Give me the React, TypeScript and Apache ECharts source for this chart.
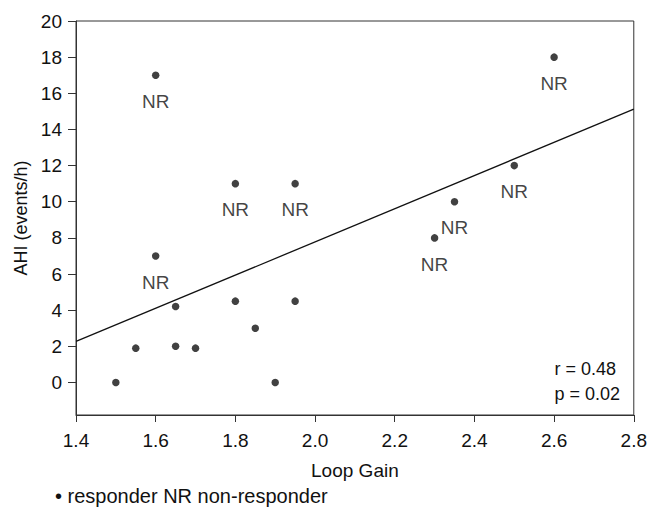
import React, { useEffect, useRef } from "react";
import * as echarts from "echarts";

const responderX = [1.5, 1.55, 1.65, 1.65, 1.7, 1.8, 1.85, 1.9, 1.95];
const responderY = [0, 1.9, 4.2, 2.0, 1.9, 4.5, 3.0, 0, 4.5];
const nonResponderX = [1.6, 1.6, 1.8, 1.95, 2.3, 2.35, 2.5, 2.6];
const nonResponderY = [17, 7, 11, 11, 8, 10, 12, 18];
const fitX = [1.4, 2.8];
const fitY = [2.27, 15.12];
const xTicks = [1.4, 1.6, 1.8, 2.0, 2.2, 2.4, 2.6, 2.8];
const yTicks = [0, 2, 4, 6, 8, 10, 12, 14, 16, 18, 20];
const statsLines = ["r = 0.48", "p = 0.02"];
const legendText = "\u2022 responder NR non-responder";

const FONT = "'Liberation Sans', Arial, Helvetica, sans-serif";
const TXT = "#111";
const AX = "#333";

export default function App() {
  const ref = useRef<HTMLDivElement>(null);
  useEffect(() => {
    if (!ref.current) return;
    const chart = echarts.init(ref.current, undefined, { renderer: "svg" });
    chart.setOption({
      animation: false,
      backgroundColor: "#fff",
      textStyle: { fontFamily: FONT },
      grid: {
        left: 76,
        right: 12,
        top: 21,
        bottom: 93,
        show: true,
        borderColor: AX,
        borderWidth: 1,
      },
      xAxis: {
        type: "value",
        min: 1.4,
        max: 2.8,
        name: "Loop Gain",
        nameLocation: "middle",
        nameGap: 46,
        nameTextStyle: { fontSize: 19, color: TXT, fontFamily: FONT },
        axisLine: { show: true, onZero: false, lineStyle: { color: AX, width: 1 } },
        axisTick: { show: true, length: 7, lineStyle: { color: AX }, customValues: xTicks },
        axisLabel: {
          fontSize: 19,
          color: TXT,
          fontFamily: FONT,
          margin: 16,
          customValues: xTicks,
          formatter: (v: number) => v.toFixed(1),
        },
        splitLine: { show: false },
      },
      yAxis: {
        type: "value",
        min: -1.8,
        max: 20,
        name: "AHI (events/h)",
        nameLocation: "middle",
        nameGap: 46,
        nameTextStyle: { fontSize: 18, color: TXT, fontFamily: FONT },
        axisLine: { show: true, onZero: false, lineStyle: { color: AX, width: 1 } },
        axisTick: { show: true, length: 8, lineStyle: { color: AX }, customValues: yTicks },
        axisLabel: {
          fontSize: 19,
          color: TXT,
          fontFamily: FONT,
          margin: 14,
          customValues: yTicks,
        },
        splitLine: { show: false },
      },
      series: [
        {
          type: "line",
          data: fitX.map((x, i) => [x, fitY[i]]),
          showSymbol: false,
          symbol: "none",
          lineStyle: { color: "#111", width: 1.3 },
          silent: true,
          z: 1,
        },
        {
          type: "scatter",
          data: responderX.map((x, i) => [x, responderY[i]]),
          symbol: "circle",
          symbolSize: 7.5,
          itemStyle: { color: "#111" },
          z: 3,
        },
        {
          type: "scatter",
          data: nonResponderX.map((x, i) => [x, nonResponderY[i]]),
          symbol: "circle",
          symbolSize: 7.5,
          itemStyle: { color: "#111" },
          label: {
            show: true,
            position: "bottom",
            distance: 13,
            formatter: "NR",
            fontSize: 19,
            color: TXT,
            fontFamily: FONT,
          },
          z: 3,
        },
      ],
      graphic: [
        {
          type: "text",
          right: 30,
          top: 356,
          style: {
            text: statsLines.join("\n"),
            fontSize: 18,
            lineHeight: 25,
            fill: TXT,
            fontFamily: FONT,
            align: "right",
          },
        },
        {
          type: "text",
          left: 55,
          top: 486,
          style: {
            text: legendText,
            fontSize: 20,
            lineHeight: 20,
            fill: TXT,
            fontFamily: FONT,
          },
        },
      ],
    });
    return () => chart.dispose();
  }, []);
  return <div ref={ref} style={{ width: 650, height: 508, position: "absolute", left: 0, top: 0 }} />;
}
